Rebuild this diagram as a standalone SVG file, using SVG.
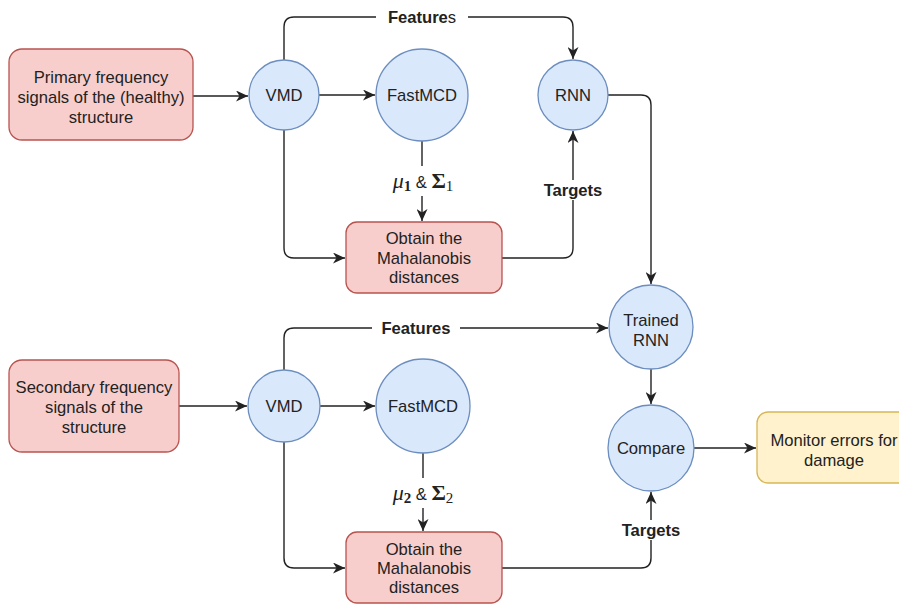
<svg xmlns="http://www.w3.org/2000/svg" width="899" height="605" viewBox="0 0 899 605">
<style>
  .t{font-family:"Liberation Sans",Arial,sans-serif;font-size:16.6px;fill:#222;text-anchor:middle}
  .b{font-weight:bold}
  .m{font-family:"Liberation Serif","Times New Roman",serif;fill:#222}
  .pink{fill:#f8cecc;stroke:#b85450;stroke-width:1.3}
  .blue{fill:#dae8fc;stroke:#6c8ebf;stroke-width:1.3}
  .yel{fill:#fff2cc;stroke:#d6b656;stroke-width:1.3}
  .e{fill:none;stroke:#222;stroke-width:1.4}
  .bg{fill:#fff}
</style>
<defs>
  <marker id="a" markerWidth="13" markerHeight="11" refX="12" refY="5.5" orient="auto" markerUnits="userSpaceOnUse">
    <path d="M0,0 L12,5.5 L0,11 L3.5,5.5 Z" fill="#222"/>
  </marker>
</defs>
<rect width="899" height="605" fill="#fff"/>
<g id="connectors">
  <path class="e" d="M193,96 H248" marker-end="url(#a)"/>
  <path class="e" d="M319,95 H375" marker-end="url(#a)"/>
  <path class="e" d="M284,60 V27 Q284,17 294,17 H563 Q573,17 573,27 V59" marker-end="url(#a)"/>
  <path class="e" d="M422,141 V221" marker-end="url(#a)"/>
  <path class="e" d="M284,130 V248 Q284,258 294,258 H345" marker-end="url(#a)"/>
  <path class="e" d="M502,258 H563 Q573,258 573,248 V131" marker-end="url(#a)"/>
  <path class="e" d="M608,95 H641 Q651,95 651,105 V284" marker-end="url(#a)"/>
  <path class="e" d="M179,406 H247" marker-end="url(#a)"/>
  <path class="e" d="M320,406 H375" marker-end="url(#a)"/>
  <path class="e" d="M284,370 V338 Q284,328 294,328 H608" marker-end="url(#a)"/>
  <path class="e" d="M423,453 V531" marker-end="url(#a)"/>
  <path class="e" d="M284,442 V558 Q284,568 294,568 H345" marker-end="url(#a)"/>
  <path class="e" d="M502,568 H641 Q651,568 651,558 V492" marker-end="url(#a)"/>
  <path class="e" d="M651,369 V404" marker-end="url(#a)"/>
  <path class="e" d="M694,448 H756" marker-end="url(#a)"/>
  <rect class="bg" x="376" y="7" width="92" height="20"/>
  <text class="t" x="422" y="23"><tspan class="b">Feature</tspan>s</text>
  <rect class="bg" x="372" y="318" width="88" height="20"/>
  <text class="t b" x="416" y="334">Features</text>
  <rect class="bg" x="540" y="180" width="66" height="20"/>
  <text class="t b" x="573" y="196">Targets</text>
  <rect class="bg" x="618" y="520" width="66" height="20"/>
  <text class="t b" x="651" y="536">Targets</text>
  <rect class="bg" x="382" y="166" width="82" height="30"/>
  <text x="423" y="188" text-anchor="middle"><tspan class="m" font-style="italic" font-size="22">μ</tspan><tspan class="m" font-weight="bold" font-size="15" dy="3">1</tspan><tspan class="t" font-size="17" dy="-3"> &amp; </tspan><tspan class="m" font-weight="bold" font-size="22">Σ</tspan><tspan class="m" font-size="15" dy="3">1</tspan></text>
  <rect class="bg" x="382" y="478" width="82" height="30"/>
  <text x="423" y="500" text-anchor="middle"><tspan class="m" font-style="italic" font-size="22">μ</tspan><tspan class="m" font-weight="bold" font-size="15" dy="3">2</tspan><tspan class="t" font-size="17" dy="-3"> &amp; </tspan><tspan class="m" font-weight="bold" font-size="22">Σ</tspan><tspan class="m" font-size="15" dy="3">2</tspan></text>
</g>
<g id="primary">
  <rect class="pink" x="9" y="49" width="184" height="91" rx="13"/>
  <text class="t" x="101" y="83">Primary frequency</text>
  <text class="t" x="101" y="103">signals of the (healthy)</text>
  <text class="t" x="101" y="123">structure</text>
</g>
<g id="vmd1">
  <circle class="blue" cx="284" cy="95" r="35"/>
  <text class="t" x="284" y="101">VMD</text>
</g>
<g id="fastmcd1">
  <circle class="blue" cx="422" cy="95" r="46"/>
  <text class="t" x="422" y="101">FastMCD</text>
</g>
<g id="rnn">
  <circle class="blue" cx="573" cy="95" r="35"/>
  <text class="t" x="573" y="101">RNN</text>
</g>
<g id="obtain1">
  <rect class="pink" x="346" y="222" width="156" height="71" rx="11"/>
  <text class="t" x="424" y="244">Obtain the</text>
  <text class="t" x="424" y="264">Mahalanobis</text>
  <text class="t" x="424" y="283">distances</text>
</g>
<g id="trained">
  <circle class="blue" cx="651" cy="327" r="42"/>
  <text class="t" x="651" y="326">Trained</text>
  <text class="t" x="651" y="346">RNN</text>
</g>
<g id="secondary">
  <rect class="pink" x="9" y="360" width="170" height="92" rx="13"/>
  <text class="t" x="94" y="393">Secondary frequency</text>
  <text class="t" x="94" y="413">signals of the</text>
  <text class="t" x="94" y="433">structure</text>
</g>
<g id="vmd2">
  <circle class="blue" cx="284" cy="406" r="36"/>
  <text class="t" x="284" y="412">VMD</text>
</g>
<g id="fastmcd2">
  <circle class="blue" cx="423" cy="406" r="47"/>
  <text class="t" x="423" y="412">FastMCD</text>
</g>
<g id="obtain2">
  <rect class="pink" x="346" y="532" width="156" height="71" rx="11"/>
  <text class="t" x="424" y="555">Obtain the</text>
  <text class="t" x="424" y="574">Mahalanobis</text>
  <text class="t" x="424" y="593">distances</text>
</g>
<g id="compare">
  <circle class="blue" cx="651" cy="448" r="43"/>
  <text class="t" x="651" y="454">Compare</text>
</g>
<g id="monitor">
  <rect class="yel" x="757" y="412" width="160" height="71" rx="11"/>
  <text class="t" x="834" y="446">Monitor errors for</text>
  <text class="t" x="834" y="466">damage</text>
</g>
</svg>
